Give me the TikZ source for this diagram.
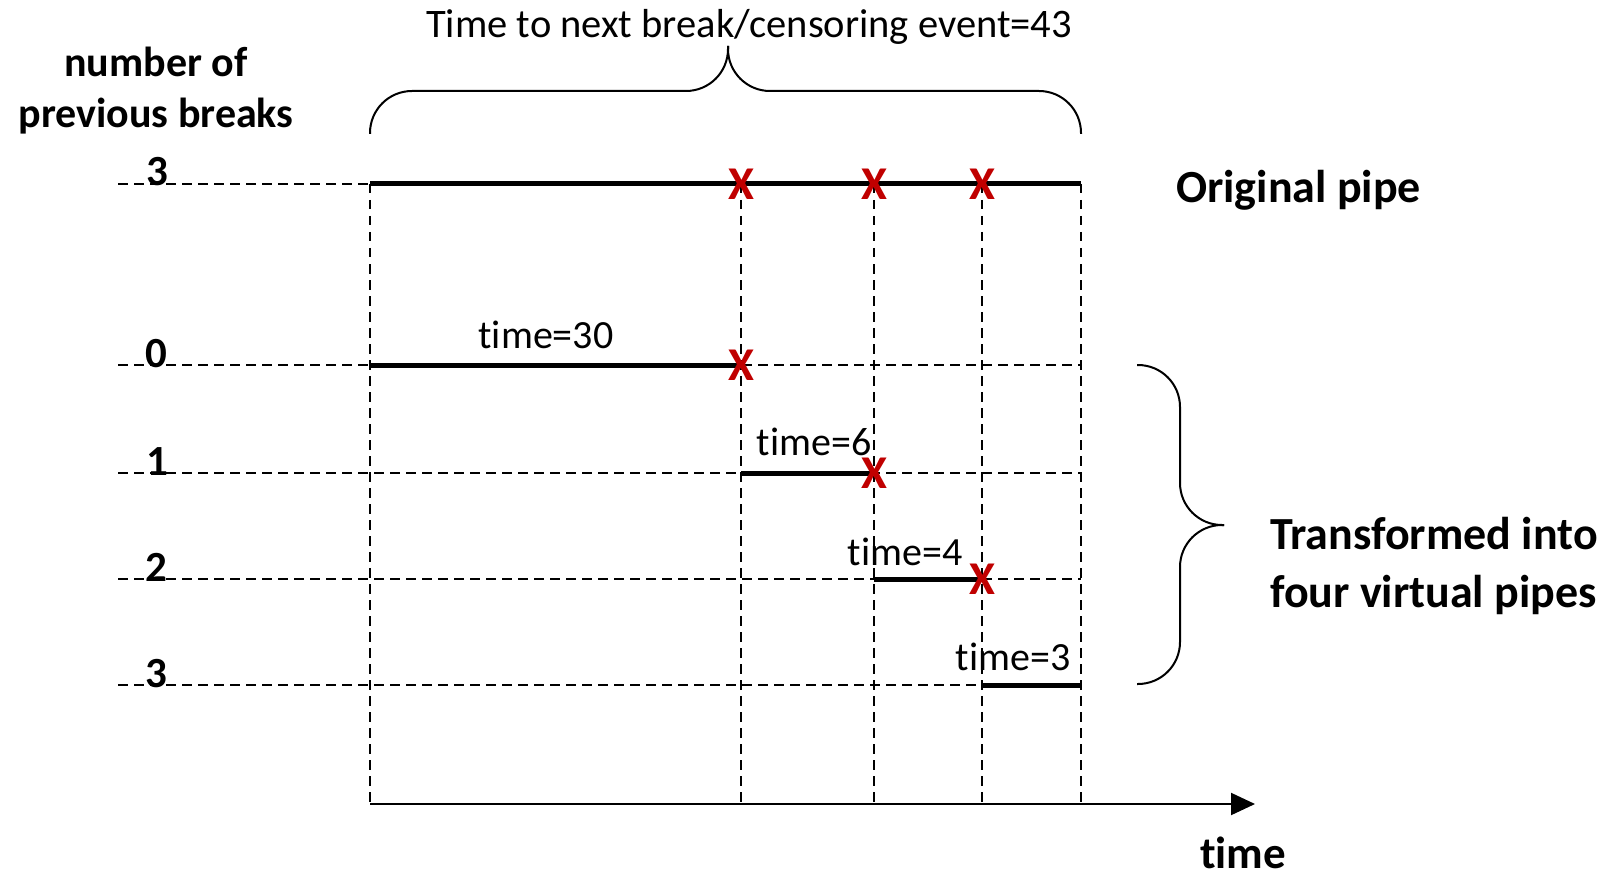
\documentclass[tikz,border=0pt]{standalone}
\usepackage{fontspec}
\setmainfont{Carlito}[Ligatures=NoCommon]
\usetikzlibrary{arrows.meta}
\definecolor{breakred}{RGB}{192,0,0}
\newcommand\timeword{t\kern0pt ime}

\tikzset{
  grid line/.style={line width=1.9pt, dash pattern=on 9.5pt off 6.5pt},
  pipe/.style={line width=5pt},
  brace line/.style={line width=2pt, rounded corners=42pt},
  break mark/.style={text=breakred, font=\fontsize{47}{47}\selectfont\bfseries, inner sep=0pt},
  level/.style={font=\fontsize{43}{43}\selectfont\bfseries, inner sep=0pt, anchor=base},
  caption/.style={font=\fontsize{46}{58}\selectfont\bfseries, align=left, inner sep=0pt},
  span label/.style={font=\fontsize{40}{40}\selectfont, inner sep=0pt, anchor=base},
}

\begin{document}
\begin{tikzpicture}[x=1pt,y=-1pt]
  \useasboundingbox (0,0) rectangle (1613,877);

  % columns at the breaks, rows at the levels
  \foreach \n/\x in {0/370,1/741,2/874,3/982,4/1081}
    \coordinate (c\n) at (\x,804);
  \foreach \n/\y in {t/184,0/365,1/473,2/579,3/685}
    \coordinate (r\n) at (118,\y);
  \coordinate (axisend) at (1255,804);

  % dashed guides
  \foreach \n in {0,...,4}
    \draw[grid line] (c\n |- rt) -- (c\n);
  \foreach \n in {0,...,3}
    \draw[grid line] (r\n) -- (r\n -| c4);
  \draw[grid line] (rt) -- (rt -| c0);

  % time axis
  \draw[line width=2pt, -{Triangle[length=24pt,width=22pt]}] (c0) -- (axisend);
  \node[font=\fontsize{45}{45}\selectfont\bfseries, inner sep=0pt, anchor=base] (timelab) at (1243,868) {\timeword};

  % pipes
  \draw[pipe] (c0 |- rt) -- (c4 |- rt);
  \draw[pipe] (c0 |- r0) -- (c1 |- r0);
  \draw[pipe] (c1 |- r1) -- (c2 |- r1);
  \draw[pipe] (c2 |- r2) -- (c3 |- r2);
  \draw[pipe] (c3 |- r3) -- (c4 |- r3);

  % breaks
  \node[break mark] (bk1) at (c1 |- rt) {X};
  \node[break mark] (bk2) at (c2 |- rt) {X};
  \node[break mark] (bk3) at (c3 |- rt) {X};
  \node[break mark] (vb0) at (c1 |- r0) {X};
  \node[break mark] (vb1) at (c2 |- r1) {X};
  \node[break mark] (vb2) at (c3 |- r2) {X};

  % levels
  \node[font=\fontsize{42}{51}\selectfont\bfseries, align=center, inner sep=0pt] (ylab) at (156,91) {number of\\previous breaks};
  \node[level] (lt) at (157,186) {3};
  \node[level] (l0) at (156,367) {0};
  \node[level] (l1) at (157,475) {1};
  \node[level] (l2) at (156,581) {2};
  \node[level] (l3) at (156,687) {3};

  % times
  \node[span label] (s0) at (546,348) {\timeword=30};
  \node[span label] (s1) at (814,455) {\timeword=6};
  \node[span label] (s2) at (905,565) {\timeword=4};
  \node[span label] (s3) at (1013,670) {\timeword=3};

  % braces
  \draw[brace line] (c0 |- 0,134) |- (728,91) -- (728,46);
  \draw[brace line] (728,46) -- (728,91) -| (c4 |- 0,134);
  \node[font=\fontsize{40.5}{40.5}\selectfont, inner sep=0pt, anchor=base] (total) at (749,38) {Time to next break/censoring event=43};

  \draw[brace line] (1137,365) -| (1180,525) -- (1224,525);
  \draw[brace line] (1224,525) -- (1180,525) |- (1137,684);

  \node[caption, anchor=base west] (orig) at (1176,203) {Original pipe};
  \node[caption, anchor=west] (virt) at (1270,566) {Transformed into\\four virtual pipes};
\end{tikzpicture}
\end{document}
